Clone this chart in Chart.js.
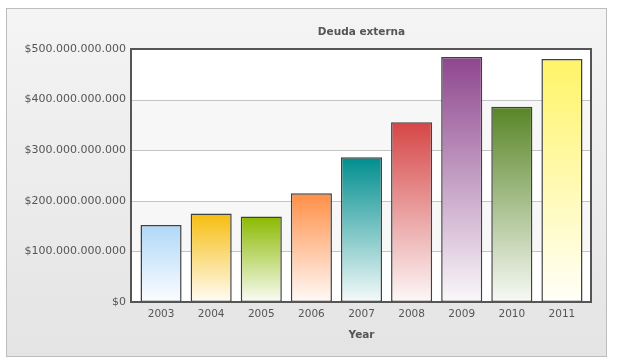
<!DOCTYPE html>
<html>
<head>
<meta charset="utf-8">
<script src="https://cdn.jsdelivr.net/npm/chart.js@4/dist/chart.umd.min.js"></script>
<style>
  html, body { margin: 0; padding: 0; background: #fff; }
  #wrap { width: 619px; height: 363px; position: relative; }
</style>
</head>
<body>
<div id="wrap"><canvas id="debtChart"></canvas></div>
<script>
// datos
const years = ['2003', '2004', '2005', '2006', '2007', '2008', '2009', '2010', '2011'];
const debt = [152e9, 175e9, 169e9, 215e9, 286e9, 355e9, 484e9, 386e9, 480e9];
const barColors = ['#AFD8F8', '#F6BD0F', '#8BBA00', '#FF8E46', '#008E8E', '#D64646', '#8E468E', '#588526', '#FFF467'];
const yTicks = [0, 100e9, 200e9, 300e9, 400e9, 500e9];

const FONT = 'DejaVu Sans, Verdana, sans-serif';
// el marco del área de trazado sobresale un poco de las categorías
const INSET_L = 5, INSET_R = 4;

function mixWhite(hex, t) {
  const n = parseInt(hex.slice(1), 16);
  const r = (n >> 16) & 255, g = (n >> 8) & 255, b = n & 255;
  const m = c => Math.round(c + (255 - c) * t);
  return 'rgb(' + m(r) + ',' + m(g) + ',' + m(b) + ')';
}

function fmtMoney(v) {
  return '$' + String(Math.round(v)).replace(/\B(?=(\d{3})+(?!\d))/g, '.');
}

// fondo gris, bandas alternas y borde del área
const frame = {
  id: 'frame',
  beforeDraw(chart) {
    const c = chart.ctx;
    const a = chart.chartArea;
    const L = a.left - INSET_L, R = a.right + INSET_R;
    c.save();
    c.fillStyle = '#fff';
    c.fillRect(0, 0, chart.width, chart.height);
    const g = c.createLinearGradient(0, 8, 0, 357);
    g.addColorStop(0, '#F4F4F4');
    g.addColorStop(1, '#E4E4E4');
    c.fillStyle = g;
    c.fillRect(6, 8, 600, 349);
    c.strokeStyle = '#BDBDBD';
    c.lineWidth = 1;
    c.strokeRect(6.5, 8.5, 600, 348);
    c.fillStyle = '#fff';
    c.fillRect(L, a.top, R - L, a.height);
    const y = chart.scales.y;
    for (let i = 0; i < yTicks.length - 1; i++) {
      const y1 = y.getPixelForValue(yTicks[i]);
      const y2 = y.getPixelForValue(yTicks[i + 1]);
      if (i % 2 === 1) {
        c.fillStyle = '#F7F7F7';
        c.fillRect(L, y2, R - L, y1 - y2);
      }
      if (i > 0) {
        c.fillStyle = '#C4C4C4';
        c.fillRect(L, Math.round(y1), R - L, 1);
      }
    }
    c.restore();
  },
  afterDatasetsDraw(chart) {
    const c = chart.ctx;
    const a = chart.chartArea;
    const L = a.left - INSET_L, R = a.right + INSET_R;
    c.save();
    c.strokeStyle = '#555';
    c.lineWidth = 2;
    c.strokeRect(L, a.top, R - L, a.height);
    c.restore();
  }
};

new Chart(document.getElementById('debtChart'), {
  type: 'bar',
  data: {
    labels: years,
    datasets: [{
      data: debt,
      backgroundColor: function(ctx) {
        const chart = ctx.chart;
        const col = barColors[ctx.dataIndex];
        const y = chart.scales.y;
        if (!y || !chart.chartArea || ctx.raw == null) return col;
        const top = y.getPixelForValue(ctx.raw);
        const bottom = y.getPixelForValue(0);
        const g = chart.ctx.createLinearGradient(0, top, 0, bottom);
        g.addColorStop(0, col);
        g.addColorStop(1, mixWhite(col, 0.96));
        return g;
      },
      borderColor: '#404040',
      borderWidth: 1.5,
      borderSkipped: false,
      barPercentage: 0.82,
      categoryPercentage: 1
    }]
  },
  options: {
    responsive: true,
    maintainAspectRatio: false,
    animation: false,
    layout: { padding: { left: 0, right: 28 + INSET_R, top: 0, bottom: 0 } },
    plugins: {
      legend: { display: false },
      tooltip: { enabled: false },
      title: {
        display: true,
        text: 'Deuda externa',
        fullSize: false,
        color: '#555',
        font: { family: FONT, size: 10.5, weight: 'bold' },
        padding: { top: 26, bottom: 10.4 }
      }
    },
    scales: {
      x: {
        grid: { display: false, drawTicks: false },
        border: { display: false },
        ticks: {
          color: '#555',
          padding: 6,
          font: { family: FONT, size: 10.5 }
        },
        title: {
          display: true,
          text: 'Year',
          color: '#555',
          font: { family: FONT, size: 10.5, weight: 'bold' },
          padding: { top: 21, bottom: 21 }
        },
        afterFit: function(s) { s.height = 61; }
      },
      y: {
        min: 0,
        max: 500e9,
        afterBuildTicks: function(s) {
          s.ticks = yTicks.map(v => ({ value: v }));
        },
        grid: { display: false, drawTicks: false },
        border: { display: false },
        ticks: {
          color: '#555',
          padding: 5 + INSET_L,
          font: { family: FONT, size: 11 },
          callback: function(v) { return fmtMoney(v); }
        },
        afterFit: function(s) { s.width = 131 + INSET_L; }
      }
    }
  },
  plugins: [frame]
});
</script>
</body>
</html>
